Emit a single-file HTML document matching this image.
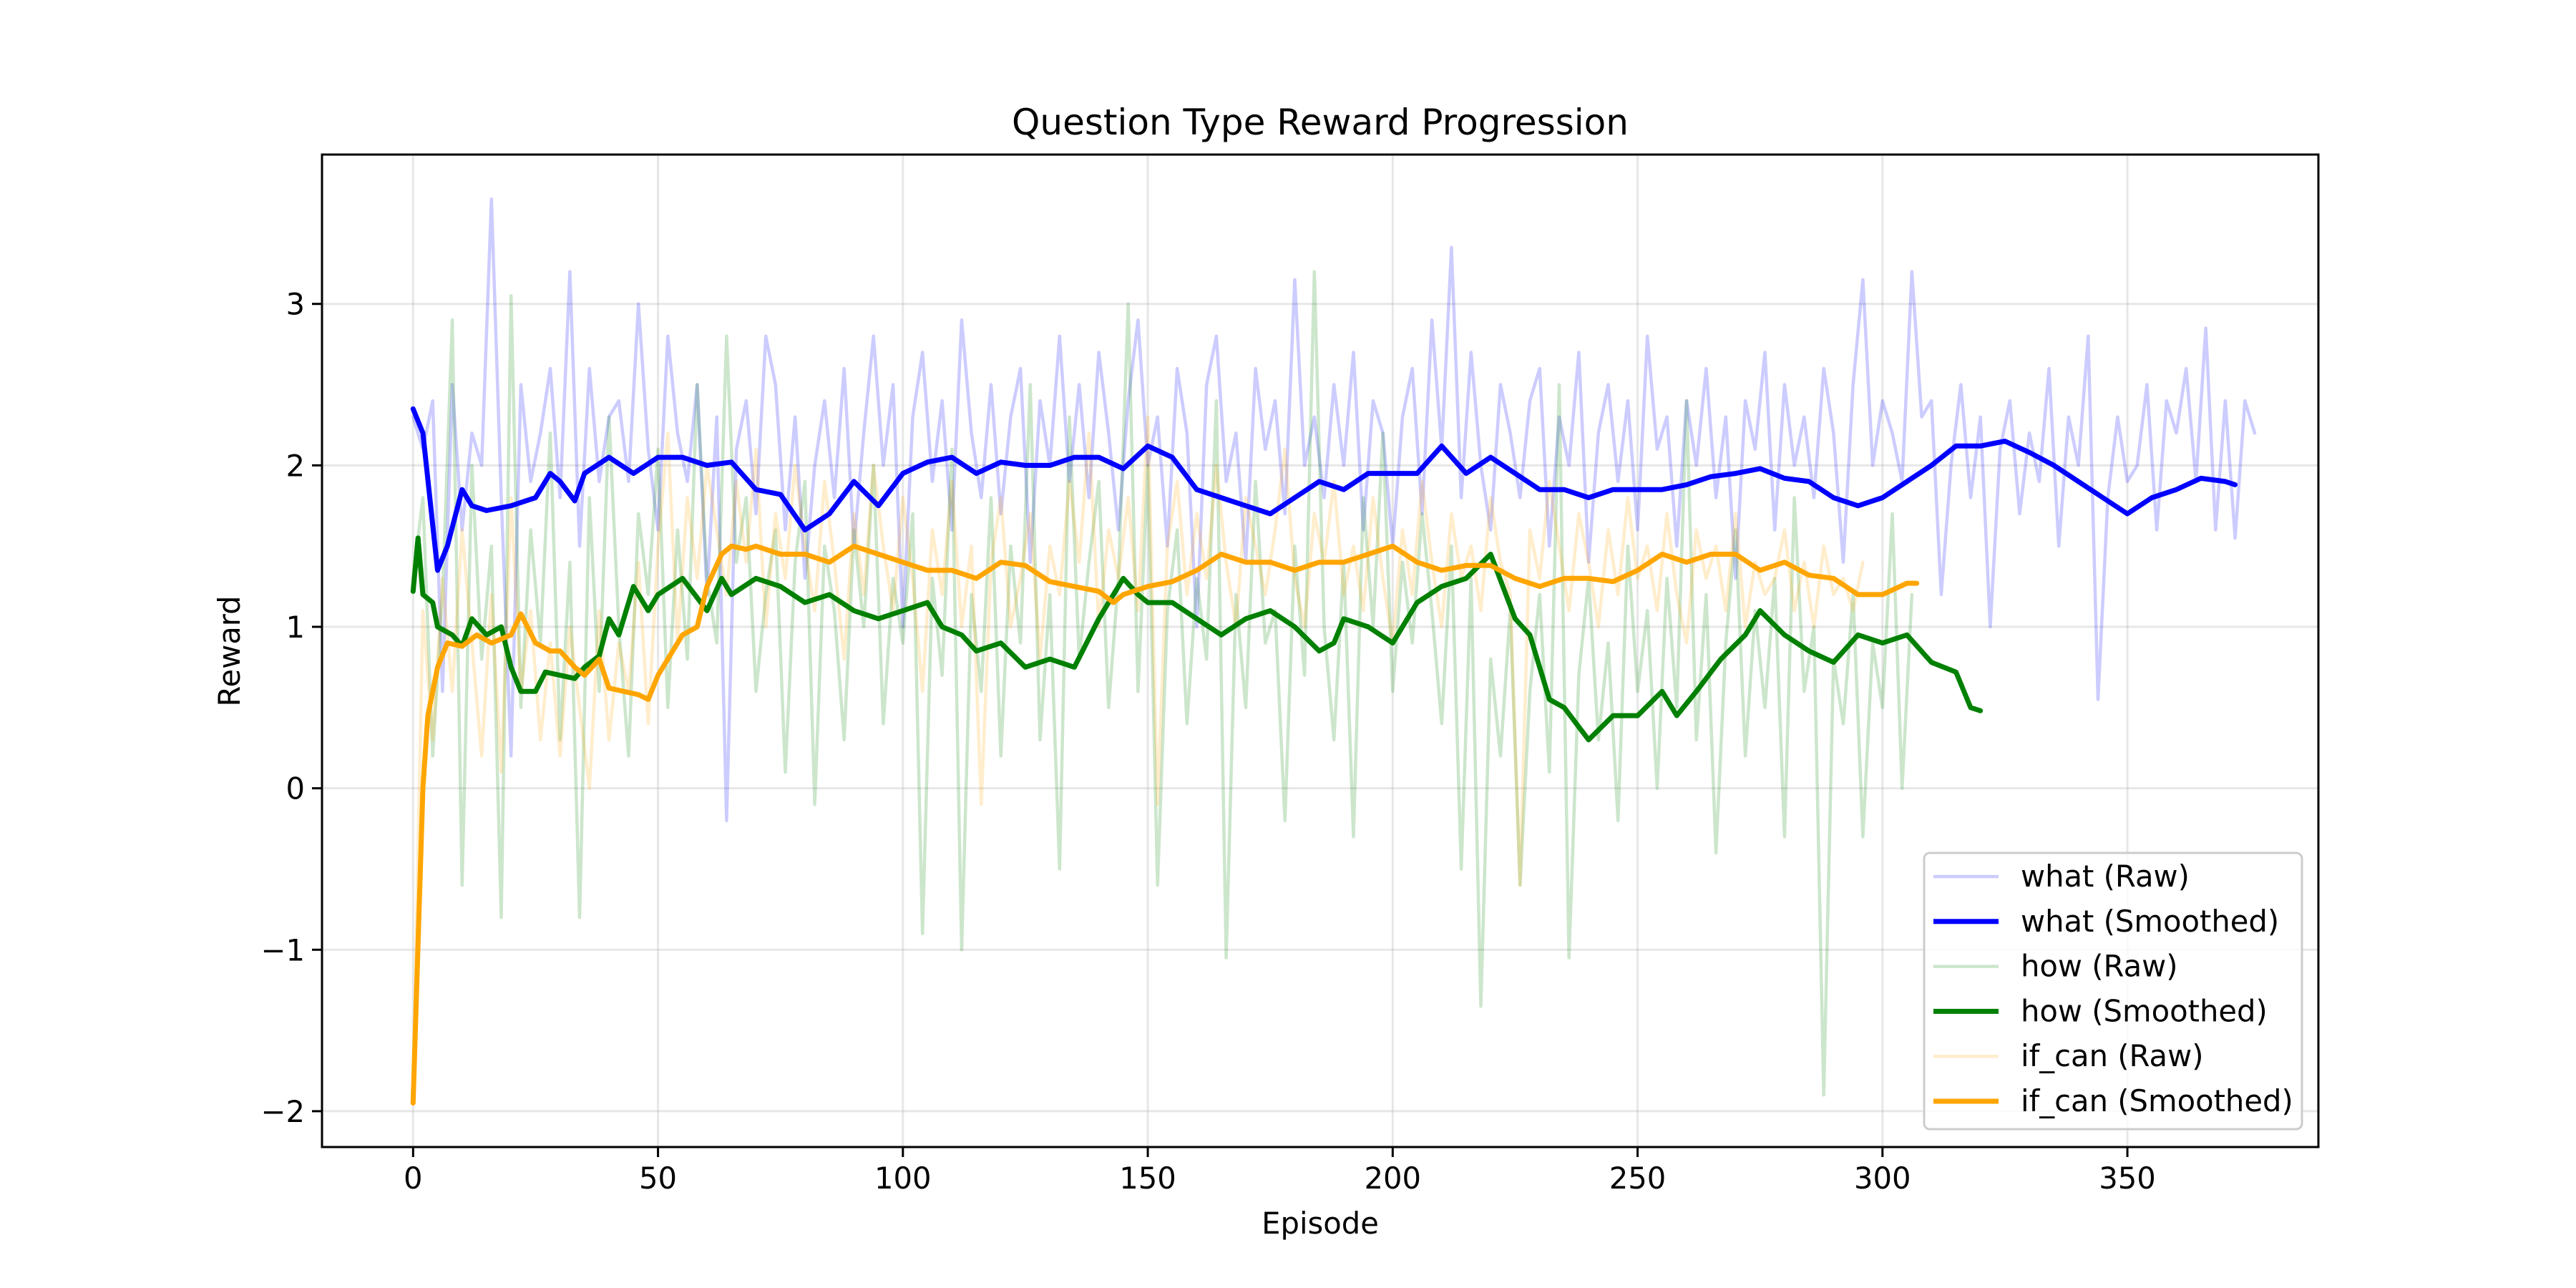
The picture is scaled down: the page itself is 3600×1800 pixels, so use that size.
<!DOCTYPE html>
<html><head><meta charset="utf-8"><style>
html,body{margin:0;padding:0;background:#fff;}
svg{display:block;font-family:"DejaVu Sans","Liberation Sans",sans-serif;}
</style></head><body>
<svg id="chart" width="3600" height="1800" viewBox="0 0 3600 1800" xmlns="http://www.w3.org/2000/svg">
<rect width="3600" height="1800" fill="#fff"/>
<text x="1845" y="188" font-size="50" text-anchor="middle">Question Type Reward Progression</text>
<g id="grid"></g>
<g id="series"></g>
<rect x="450" y="216" width="2790" height="1387" fill="none" stroke="#000" stroke-width="3"/>
<g id="ticks"></g>
<text x="1845" y="1724" font-size="41.7" text-anchor="middle">Episode</text>
<text x="335" y="910" font-size="41.7" text-anchor="middle" transform="rotate(-90 335 910)">Reward</text>
<g id="legend"></g>
</svg>
<script>
const xTicks=[0,50,100,150,200,250,300,350];
const yTicks=[-2,-1,0,1,2,3];
const yTickLabels=["\u22122","\u22121","0","1","2","3"];
const rawStep=2;
const whatRaw=[2.3,2.1,2.4,0.6,2.5,1.6,2.2,2.0,3.65,1.8,0.2,2.5,1.9,2.2,2.6,1.8,3.2,1.5,2.6,1.9,2.3,2.4,1.9,3.0,2.1,1.6,2.8,2.2,1.9,2.5,1.2,2.3,-0.2,2.1,2.4,1.7,2.8,2.5,1.6,2.3,1.3,2.0,2.4,1.8,2.6,1.5,2.2,2.8,2.0,2.5,1.0,2.3,2.7,1.9,2.4,1.6,2.9,2.2,1.8,2.5,1.7,2.3,2.6,1.4,2.4,2.0,2.8,1.9,2.5,1.8,2.7,2.2,1.6,2.4,2.9,2.0,2.3,1.5,2.6,2.2,1.0,2.5,2.8,1.9,2.2,1.4,2.6,2.1,2.4,1.7,3.15,2.0,2.3,1.8,2.5,2.0,2.7,1.6,2.4,2.2,1.5,2.3,2.6,1.7,2.9,2.1,3.35,1.8,2.7,2.0,1.6,2.5,2.2,1.8,2.4,2.6,1.5,2.3,2.0,2.7,1.4,2.2,2.5,1.9,2.4,1.6,2.8,2.1,2.3,1.5,2.4,2.0,2.6,1.8,2.3,1.3,2.4,2.1,2.7,1.6,2.5,2.0,2.3,1.8,2.6,2.2,1.4,2.5,3.15,2.0,2.4,2.2,1.9,3.2,2.3,2.4,1.2,2.0,2.5,1.8,2.3,1.0,2.1,2.4,1.7,2.2,1.9,2.6,1.5,2.3,2.0,2.8,0.55,1.8,2.3,1.9,2.0,2.5,1.6,2.4,2.2,2.6,1.9,2.85,1.6,2.4,1.55,2.4,2.2];
const howRaw=[1.3,1.8,0.2,1.2,2.9,-0.6,2.0,0.8,1.5,-0.8,3.05,0.5,1.6,0.9,2.2,0.3,1.4,-0.8,1.8,0.6,2.3,1.0,0.2,1.7,1.2,2.1,0.5,1.6,0.8,2.5,1.3,0.9,2.8,1.4,1.8,0.6,1.2,1.6,0.1,1.4,1.9,-0.1,1.5,1.1,0.3,1.6,1.0,2.0,0.4,1.3,0.9,1.7,-0.9,1.3,0.7,2.1,-1.0,1.2,0.6,1.8,0.2,1.5,0.9,2.5,0.3,1.2,-0.5,2.3,0.8,1.4,1.9,0.5,1.3,3.0,0.6,2.0,-0.6,1.1,1.6,0.4,1.3,0.8,2.4,-1.05,1.2,0.5,1.9,0.9,1.1,-0.2,1.5,0.7,3.2,1.0,0.3,1.4,-0.3,1.8,1.0,2.2,0.6,1.4,0.9,1.7,1.1,0.4,1.5,-0.5,1.3,-1.35,0.8,0.2,1.1,-0.6,0.6,1.2,0.1,2.5,-1.05,0.7,1.3,0.3,0.9,-0.2,1.5,0.6,1.1,0.0,1.3,0.5,2.4,0.3,1.2,-0.4,0.9,1.6,0.2,1.1,0.5,1.3,-0.3,1.8,0.6,1.0,-1.9,0.8,0.4,1.2,-0.3,0.9,0.5,1.7,0.0,1.2];
const ifcanRaw=[-1.9,1.1,0.3,1.3,0.6,1.6,0.9,0.2,1.2,0.1,1.8,0.6,1.1,0.3,0.9,0.2,1.0,0.5,0.0,1.1,0.3,0.9,0.6,1.4,0.4,1.5,2.2,0.9,1.8,1.3,2.0,1.6,1.2,1.9,1.4,2.1,1.0,1.7,1.3,2.0,1.5,1.1,1.9,1.4,0.8,1.7,1.2,2.0,1.5,1.1,1.8,1.3,0.6,1.6,1.2,1.9,1.0,1.5,-0.1,1.4,1.8,1.0,1.3,1.7,0.8,1.5,1.2,1.9,1.4,2.2,1.0,1.6,1.3,1.8,1.1,2.3,-0.1,1.5,1.9,1.2,1.7,1.3,2.0,1.4,1.0,1.8,1.5,1.2,1.6,2.1,1.3,1.0,1.7,1.4,1.9,1.2,1.5,1.1,1.8,1.3,0.9,1.6,1.2,1.9,1.4,1.0,1.7,1.3,1.5,1.1,1.8,1.4,1.2,-0.6,1.6,1.3,1.9,1.5,1.1,1.7,1.4,1.0,1.6,1.2,1.8,1.3,1.5,1.1,1.7,1.2,0.9,1.6,1.3,1.5,1.1,1.7,1.0,1.4,1.2,1.3,1.6,1.1,1.4,1.0,1.5,1.2,1.3,1.1,1.4];
const whatSmX=[0,2,5,7,10,12,15,20,25,28,30,33,35,40,45,50,55,60,65,70,75,80,85,90,95,100,105,110,115,120,125,130,135,140,145,150,155,160,165,170,175,180,185,190,195,200,205,210,215,220,225,230,235,240,245,250,255,260,265,270,275,280,285,290,295,300,305,310,315,320,325,330,335,340,345,350,355,360,365,370,372];
const whatSmY=[2.35,2.2,1.35,1.5,1.85,1.75,1.72,1.75,1.8,1.95,1.9,1.78,1.95,2.05,1.95,2.05,2.05,2.0,2.02,1.85,1.82,1.6,1.7,1.9,1.75,1.95,2.02,2.05,1.95,2.02,2.0,2.0,2.05,2.05,1.98,2.12,2.05,1.85,1.8,1.75,1.7,1.8,1.9,1.85,1.95,1.95,1.95,2.12,1.95,2.05,1.95,1.85,1.85,1.8,1.85,1.85,1.85,1.88,1.93,1.95,1.98,1.92,1.9,1.8,1.75,1.8,1.9,2.0,2.12,2.12,2.15,2.08,2.0,1.9,1.8,1.7,1.8,1.85,1.92,1.9,1.88];
const howSmX=[0,1,2,4,5,8,10,12,15,18,20,22,25,27,30,33,35,38,40,42,45,48,50,55,60,63,65,70,75,80,85,90,95,100,105,108,112,115,120,125,130,135,140,145,148,150,155,160,165,170,175,180,185,188,190,195,200,205,210,215,220,225,228,232,235,240,245,250,255,258,262,267,272,275,280,285,290,295,300,305,310,315,318,320];
const howSmY=[1.22,1.55,1.2,1.15,1.0,0.95,0.88,1.05,0.95,1.0,0.75,0.6,0.6,0.72,0.7,0.68,0.75,0.82,1.05,0.95,1.25,1.1,1.2,1.3,1.1,1.3,1.2,1.3,1.25,1.15,1.2,1.1,1.05,1.1,1.15,1.0,0.95,0.85,0.9,0.75,0.8,0.75,1.05,1.3,1.2,1.15,1.15,1.05,0.95,1.05,1.1,1.0,0.85,0.9,1.05,1.0,0.9,1.15,1.25,1.3,1.45,1.05,0.95,0.55,0.5,0.3,0.45,0.45,0.6,0.45,0.6,0.8,0.95,1.1,0.95,0.85,0.78,0.95,0.9,0.95,0.78,0.72,0.5,0.48];
const ifSmX=[0,2,3,5,7,10,13,16,20,22,25,28,30,33,35,38,40,43,46,48,50,53,55,58,60,63,65,68,70,75,80,85,90,95,100,105,110,115,120,125,130,135,140,143,145,150,155,160,165,170,175,180,185,190,195,200,205,210,215,220,225,230,235,240,245,250,255,260,265,270,275,280,285,290,295,300,305,307];
const ifSmY=[-1.95,0.0,0.45,0.75,0.9,0.88,0.95,0.9,0.95,1.08,0.9,0.85,0.85,0.75,0.7,0.8,0.62,0.6,0.58,0.55,0.7,0.85,0.95,1.0,1.25,1.45,1.5,1.48,1.5,1.45,1.45,1.4,1.5,1.45,1.4,1.35,1.35,1.3,1.4,1.38,1.28,1.25,1.22,1.15,1.2,1.25,1.28,1.35,1.45,1.4,1.4,1.35,1.4,1.4,1.45,1.5,1.4,1.35,1.38,1.38,1.3,1.25,1.3,1.3,1.28,1.35,1.45,1.4,1.45,1.45,1.35,1.4,1.32,1.3,1.2,1.2,1.27,1.27];

const NS="http://www.w3.org/2000/svg";
const X0=450,X1=3240,Y0=216,Y1=1603;
const xMin=-18.6,xMax=389.0,yMin=-2.222,yMax=3.925;
function sx(v){return X0+(v-xMin)/(xMax-xMin)*(X1-X0);}
function sy(v){return Y1-(v-yMin)/(yMax-yMin)*(Y1-Y0);}
function mk(tag,attrs,parent){const e=document.createElementNS(NS,tag);for(const k in attrs)e.setAttribute(k,attrs[k]);parent.appendChild(e);return e;}
const grid=document.getElementById('grid'),ticks=document.getElementById('ticks'),series=document.getElementById('series'),legend=document.getElementById('legend');
xTicks.forEach(t=>{
  const g=mk('line',{x1:sx(t),x2:sx(t),y1:Y0,y2:Y1,stroke:'#b0b0b0','stroke-opacity':0.3,'stroke-width':3},grid);
  
  
  const tk=mk('line',{x1:sx(t),x2:sx(t),y1:Y1,y2:Y1+14,stroke:'#000','stroke-width':3},ticks);
  
  
  const tl=mk('text',{x:sx(t),y:Y1+58,'font-size':41.7,'text-anchor':'middle'},ticks);
  tl.textContent=String(t);
  
  
});
yTicks.forEach((t,i)=>{
  const g=mk('line',{x1:X0,x2:X1,y1:sy(t),y2:sy(t),stroke:'#b0b0b0','stroke-opacity':0.3,'stroke-width':3},grid);
  
  
  const tk=mk('line',{x1:X0-14,x2:X0,y1:sy(t),y2:sy(t),stroke:'#000','stroke-width':3},ticks);
  
  
  const tl=mk('text',{x:X0-24,y:sy(t)+15,'font-size':41.7,'text-anchor':'end'},ticks);
  tl.textContent=yTickLabels[i];
  
  
});
function path(xs,ys,color,op,w,name){
  const d=ys.map((v,i)=>(i?'L':'M')+sx(xs[i]).toFixed(1)+','+sy(v).toFixed(1)).join('');
  const p=mk('path',{d:d,fill:'none',stroke:color,'stroke-opacity':op,'stroke-width':w,'stroke-linejoin':'round','stroke-linecap':'round'},series);
  
  
}
function idx(arr){return arr.map((_,i)=>i*rawStep);}
path(idx(whatRaw),whatRaw,'#0000ff',0.2,4.5,'what-raw-line');
path(idx(howRaw),howRaw,'#008000',0.2,4.5,'how-raw-line');
path(idx(ifcanRaw),ifcanRaw,'#ffa500',0.2,4.5,'if-can-raw-line');
path(whatSmX,whatSmY,'#0000ff',1,7,'what-smoothed-line');
path(howSmX,howSmY,'#008000',1,7,'how-smoothed-line');
path(ifSmX,ifSmY,'#ffa500',1,7,'if-can-smoothed-line');
const lb=mk('rect',{x:2689,y:1192,width:528,height:386,rx:8,fill:'#fff','fill-opacity':0.8,stroke:'#cccccc','stroke-width':3},legend);


const legLabels=['what (Raw)','what (Smoothed)','how (Raw)','how (Smoothed)','if_can (Raw)','if_can (Smoothed)'];
const legColors=['#0000ff','#0000ff','#008000','#008000','#ffa500','#ffa500'];
const legOp=[0.2,1,0.2,1,0.2,1];
legLabels.forEach((lab,i)=>{
  const y=1225+i*62.8;
  const l=mk('line',{x1:2702,x2:2793,y1:y,y2:y,stroke:legColors[i],'stroke-opacity':legOp[i],'stroke-width':legOp[i]<1?4.5:7},legend);
  
  
  const t=mk('text',{x:2824,y:y+14,'font-size':41.7},legend);
  t.textContent=lab;
  
  
});
</script>
</body></html>
